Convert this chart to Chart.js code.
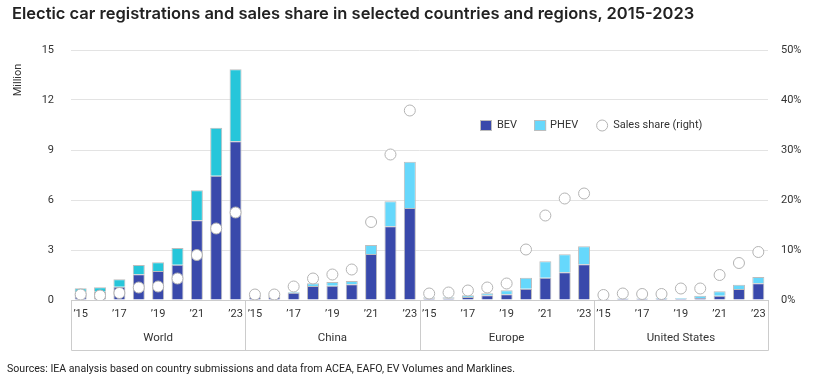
<!DOCTYPE html>
<html><head><meta charset="utf-8">
<script src="https://cdn.jsdelivr.net/npm/chart.js@4"></script>
<style>
html,body{margin:0;padding:0;background:#fff;width:830px;height:382px;overflow:hidden;}
#wrap{position:relative;width:830px;height:382px;}
#title{position:absolute;left:12px;top:3px;font:600 16.5px Inter, sans-serif;color:#222;white-space:nowrap;}
#src{position:absolute;left:7px;top:362px;font:11px Roboto, sans-serif;color:#222;white-space:nowrap;transform-origin:0 0;}
canvas{position:absolute;left:0;top:0;}
</style></head><body>
<div id="wrap">
<canvas id="c" width="830" height="382"></canvas>
<div id="title">Electic car registrations and sales share in selected countries and regions, 2015-2023</div>
<div id="src">Sources: IEA analysis based on country submissions and data from ACEA, EAFO, EV Volumes and Marklines.</div>
</div>
<script>
// ---- data ----
const regions = ['World', 'China', 'Europe', 'United States'];
const years = ['’15', '’16', '’17', '’18', '’19', '’20', '’21', '’22', '’23'];
// Million vehicles
const bevWorld  = [0.45, 0.50, 0.80, 1.54, 1.74, 2.12, 4.78, 7.46, 9.52];
const phevWorld = [0.25, 0.26, 0.44, 0.56, 0.52, 1.00, 1.80, 2.88, 4.32];
const bevChina  = [0.16, 0.20, 0.44, 0.84, 0.86, 0.94, 2.76, 4.42, 5.52];
const phevChina = [0.06, 0.05, 0.04, 0.16, 0.22, 0.20, 0.54, 1.50, 2.78];
const bevEurope = [0.10, 0.10, 0.18, 0.28, 0.34, 0.68, 1.34, 1.66, 2.14];
const phevEurope= [0.06, 0.06, 0.10, 0.12, 0.24, 0.66, 0.98, 1.08, 1.08];
const bevUS     = [0.06, 0.08, 0.08, 0.08, 0.08, 0.12, 0.26, 0.66, 1.00];
const phevUS    = [0.02, 0.03, 0.03, 0.04, 0.04, 0.14, 0.26, 0.26, 0.38];
// Sales share, %
const shareWorld  = [1.1, 0.9, 1.4, 2.5, 2.7, 4.3, 9.0, 14.3, 17.5];
const shareChina  = [1.1, 1.1, 2.7, 4.3, 5.1, 6.1, 15.6, 29.1, 37.9];
const shareEurope = [1.3, 1.5, 1.9, 2.5, 3.3, 10.1, 16.9, 20.3, 21.3];
const shareUS     = [1.0, 1.3, 1.2, 1.2, 2.3, 2.3, 5.0, 7.4, 9.6];
const leftTicks = [0, 3, 6, 9, 12, 15];
const rightTicks = [0, 10, 20, 30, 40, 50];

const BEV_COLOR = '#3949AB';
const PHEV_WORLD = '#26C6DA';
const PHEV_OTHER = '#66D8FC';
const BORDER = '#bdbdbd';
const DOT_BORDER = '#b3b3b3';

const labels = [];
regions.forEach(r => years.forEach(y => labels.push(r + ' ' + y)));
const bev = [].concat(bevWorld, bevChina, bevEurope, bevUS);
const phev = [].concat(phevWorld, phevChina, phevEurope, phevUS);
const share = [].concat(shareWorld, shareChina, shareEurope, shareUS);
const phevColors = labels.map((l, i) => Math.floor(i / years.length) === 0 ? PHEV_WORLD : PHEV_OTHER);

const FONT = 'Roboto, "Open Sans", sans-serif';

const decor = {
  id: 'decor',
  afterDraw(chart) {
    const {ctx, chartArea, scales: {x}} = chart;
    const n = years.length;
    const half = (x.getPixelForValue(1) - x.getPixelForValue(0)) / 2;
    const boxBottom = Math.round(chartArea.bottom + 50) + 0.5;
    ctx.save();
    ctx.strokeStyle = '#cccccc';
    ctx.lineWidth = 1;
    ctx.beginPath();
    for (let g = 0; g <= regions.length; g++) {
      const px = Math.round(x.getPixelForValue(g * n) - half) + 0.5;
      ctx.moveTo(px, chartArea.bottom);
      ctx.lineTo(px, boxBottom);
    }
    const l = Math.round(x.getPixelForValue(0) - half) + 0.5;
    const r = Math.round(x.getPixelForValue(regions.length * n) - half) + 0.5;
    ctx.moveTo(l, boxBottom); ctx.lineTo(r, boxBottom);
    ctx.stroke();

    // y axis title
    ctx.fillStyle = '#333';
    ctx.font = '11px ' + FONT;
    ctx.translate(18, 80);
    ctx.rotate(-Math.PI / 2);
    ctx.textAlign = 'center';
    ctx.textBaseline = 'middle';
    ctx.fillText('Million', 0, 0);
    ctx.restore();

    // legend
    ctx.save();
    ctx.font = '11px ' + FONT;
    ctx.textBaseline = 'middle';
    ctx.fillStyle = '#333';
    let lx = 480; const ly = 125.5;
    const ds = chart.data.datasets;
    ctx.fillStyle = BEV_COLOR; ctx.fillRect(lx, ly - 5.5, 12, 11);
    ctx.strokeStyle = BORDER; ctx.strokeRect(lx + 0.5, ly - 5, 11, 10);
    lx += 17; ctx.fillStyle = '#333'; ctx.fillText(ds[0].label, lx, ly);
    lx += ctx.measureText(ds[0].label).width + 17;
    ctx.fillStyle = PHEV_OTHER; ctx.fillRect(lx, ly - 5.5, 12, 11);
    ctx.strokeStyle = BORDER; ctx.strokeRect(lx + 0.5, ly - 5, 11, 10);
    lx += 16; ctx.fillStyle = '#333'; ctx.fillText(ds[1].label, lx, ly);
    lx += ctx.measureText(ds[1].label).width + 18;
    ctx.beginPath(); ctx.arc(lx + 6, ly, 5.5, 0, Math.PI * 2);
    ctx.fillStyle = '#fff'; ctx.fill(); ctx.strokeStyle = DOT_BORDER; ctx.stroke();
    lx += 17; ctx.fillStyle = '#333'; ctx.fillText(ds[2].label, lx, ly);
    ctx.restore();
  }
};

new Chart(document.getElementById('c'), {
  data: {
    labels: labels,
    datasets: [
      { type: 'bar', label: 'BEV', data: bev, backgroundColor: BEV_COLOR, borderColor: BORDER, borderWidth: 1, stack: 's', yAxisID: 'y', order: 1 },
      { type: 'bar', label: 'PHEV', data: phev, backgroundColor: phevColors, borderColor: BORDER, borderWidth: 1, stack: 's', yAxisID: 'y', order: 1 },
      { type: 'line', label: 'Sales share (right)', data: share, yAxisID: 'y1', showLine: false, pointRadius: 5.5, pointBackgroundColor: '#fff', pointBorderColor: DOT_BORDER, pointBorderWidth: 1, order: 0 }
    ]
  },
  options: {
    responsive: false,
    animation: false,
    events: [],
    layout: { padding: { left: 0, right: 0, top: 50, bottom: 30 } },
    datasets: { bar: { barPercentage: 0.62, categoryPercentage: 1 } },
    plugins: { legend: { display: false }, tooltip: { enabled: false }, title: { display: false } },
    scales: {
      x: {
        type: 'category', stacked: true, offset: true, weight: 0,
        grid: { display: false, drawTicks: false },
        border: { display: true, color: '#cccccc' },
        ticks: {
          autoSkip: false, maxRotation: 0, padding: 8, color: '#333', font: { family: FONT, size: 11 },
          callback: (v, i) => (i % years.length) % 2 === 0 ? years[i % years.length] : ''
        },
        afterFit: s => { s.height = 22; }
      },
      x2: {
        type: 'category', labels: regions, offset: true, position: 'bottom', weight: 1,
        grid: { display: false, drawTicks: false },
        border: { display: false },
        ticks: { autoSkip: false, maxRotation: 0, padding: 9, color: '#333', font: { family: FONT, size: 11.5 } },
        afterFit: s => { s.height = 30; }
      },
      y: {
        stacked: true, min: 0, max: 15, position: 'left',
        afterBuildTicks: s => { s.ticks = leftTicks.map(v => ({ value: v })); },
        grid: { drawTicks: false, color: c => (c.tick && c.tick.value === 0) ? 'rgba(0,0,0,0)' : '#e3e3e3' },
        border: { display: false },
        ticks: { padding: 17, color: '#333', font: { family: FONT, size: 11 } },
        afterFit: s => { s.width = 71; }
      },
      y1: {
        min: 0, max: 50, position: 'right',
        afterBuildTicks: s => { s.ticks = rightTicks.map(v => ({ value: v })); },
        grid: { display: false, drawTicks: false },
        border: { display: false },
        ticks: { padding: 13, color: '#333', font: { family: FONT, size: 11 }, callback: v => v + '%' },
        afterFit: s => { s.width = 62; }
      }
    }
  },
  plugins: [decor]
});

// fit source line to the width it has in the original
const src = document.getElementById('src');
const w = src.getBoundingClientRect().width;
src.style.transform = 'scaleX(' + (508 / w) + ')';
</script>
</body></html>
